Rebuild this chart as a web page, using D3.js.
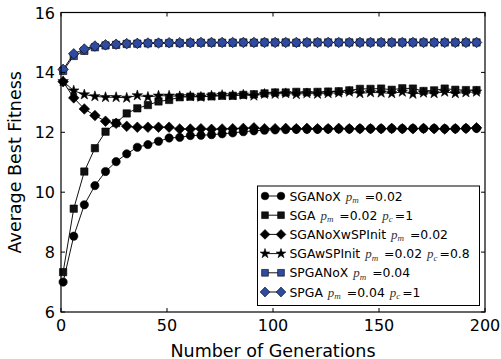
<!DOCTYPE html>
<html>
<head>
<meta charset="utf-8">
<script src="https://cdn.jsdelivr.net/npm/d3@7"></script>
<style>
  html, body { margin: 0; padding: 0; background: #fff; }
  svg { display: block; }
  text { font-family: "DejaVu Sans", sans-serif; fill: #000; }
</style>
</head>
<body>
<svg id="chart" width="501" height="359"></svg>
<script>
// Generations sampled every 5 steps
const generations = d3.range(1, 200, 5);

const sgaNoX = [7.0, 8.53, 9.58, 10.22, 10.69, 11.02, 11.28, 11.5, 11.59, 11.7,
  11.81, 11.83, 11.89, 11.9, 11.92, 11.95, 11.98, 12.02, 12.05, 12.07,
  12.08, 12.09, 12.1, 12.1, 12.1, 12.11, 12.11, 12.11, 12.12, 12.12,
  12.12, 12.12, 12.12, 12.13, 12.12, 12.13, 12.12, 12.12, 12.13, 12.13];

const sga = [7.33, 9.45, 10.69, 11.47, 12.02, 12.31, 12.63, 12.8, 12.91, 13.03,
  13.08, 13.17, 13.19, 13.19, 13.2, 13.22, 13.22, 13.25, 13.27, 13.3,
  13.33, 13.33, 13.35, 13.34, 13.35, 13.36, 13.37, 13.4, 13.45, 13.45,
  13.46, 13.42, 13.47, 13.46, 13.38, 13.4, 13.46, 13.42, 13.41, 13.41];

const sgaNoXwSPInit = [13.69, 13.15, 12.78, 12.56, 12.37, 12.3, 12.2, 12.17, 12.17, 12.17,
  12.17, 12.11, 12.11, 12.12, 12.1, 12.11, 12.12, 12.13, 12.15, 12.12,
  12.12, 12.13, 12.12, 12.13, 12.12, 12.12, 12.13, 12.12, 12.12, 12.12,
  12.12, 12.13, 12.12, 12.12, 12.13, 12.12, 12.11, 12.12, 12.13, 12.15];

const sgaWSPInit = [13.7, 13.39, 13.26, 13.2, 13.17, 13.17, 13.15, 13.23, 13.18, 13.22,
  13.22, 13.2, 13.2, 13.18, 13.22, 13.24, 13.23, 13.25, 13.22, 13.28,
  13.28, 13.3, 13.27, 13.3, 13.28, 13.3, 13.32, 13.35, 13.3, 13.33,
  13.32, 13.3, 13.35, 13.28, 13.32, 13.3, 13.35, 13.3, 13.33, 13.35];

const spgaNoX = [14.05, 14.55, 14.72, 14.84, 14.9, 14.92, 14.95, 14.96, 14.97, 14.98,
  14.98, 14.98, 14.99, 14.99, 14.99, 14.99, 14.99, 15.0, 14.99, 15.0,
  15.0, 15.0, 14.99, 15.0, 15.0, 15.0, 15.0, 15.0, 15.0, 15.0,
  15.0, 15.0, 15.0, 15.0, 15.0, 15.0, 15.0, 15.0, 15.0, 15.0];

const spga = [14.1, 14.62, 14.78, 14.88, 14.92, 14.94, 14.96, 14.97, 14.98, 14.98,
  14.99, 14.99, 14.99, 15.0, 15.0, 15.0, 15.0, 15.0, 15.0, 15.0,
  15.0, 15.0, 15.0, 15.0, 15.0, 15.0, 15.0, 15.0, 15.0, 15.0,
  15.0, 15.0, 15.0, 15.0, 15.0, 15.0, 15.0, 15.0, 15.0, 15.0];

const xTicks = [0, 50, 100, 150, 200];
const yTicks = [6, 8, 10, 12, 14, 16];

// Legend labels: name, mutation rate, crossover rate
const seriesNames = ["SGANoX", "SGA", "SGANoXwSPInit", "SGAwSPInit", "SPGANoX", "SPGA"];
const pmValues = ["0.02", "0.02", "0.02", "0.02", "0.04", "0.04"];
const pcValues = [null, "1", null, "0.8", null, "1"];

const BLUE = "#2f4b9f";

const series = [
  { values: sgaNoX,        marker: "circle",  fill: "#000" },
  { values: sga,           marker: "square",  fill: "#111" },
  { values: sgaNoXwSPInit, marker: "diamond", fill: "#000" },
  { values: sgaWSPInit,    marker: "star",    fill: "#000" },
  { values: spgaNoX,       marker: "square",  fill: BLUE },
  { values: spga,          marker: "diamond", fill: BLUE }
];

const svg = d3.select("#chart");
const margin = { left: 61, top: 12.5, right: 16, bottom: 47 };
const W = 501, H = 359;

const x = d3.scaleLinear().domain([0, 200]).range([margin.left, W - margin.right]);
const y = d3.scaleLinear().domain([6, 16]).range([H - margin.bottom, margin.top]);

function symbolPath(kind, scale) {
  const s = scale || 1;
  if (kind === "circle") return d3.symbol(d3.symbolCircle, 54 * s)();
  if (kind === "square") return d3.symbol(d3.symbolSquare, 54 * s)();
  if (kind === "diamond") {
    const r = 5.3 * Math.sqrt(s);
    return `M0,${-r}L${r},0L0,${r}L${-r},0Z`;
  }
  return d3.symbol(d3.symbolStar, 34 * s)();
}

const plot = svg.append("g");
const line = d3.line().x((d, i) => x(generations[i])).y(d => y(d));

series.forEach(s => {
  plot.append("path")
    .attr("d", line(s.values))
    .attr("fill", "none")
    .attr("stroke", "#111")
    .attr("stroke-width", 1);
  plot.append("g").selectAll("path")
    .data(s.values)
    .join("path")
    .attr("transform", (d, i) => `translate(${x(generations[i])},${y(d)})`)
    .attr("d", symbolPath(s.marker))
    .attr("fill", s.fill)
    .attr("stroke", "#000")
    .attr("stroke-width", 0.6);
});

// Frame
const x0 = x(0), x1 = x(200), y0 = y(6), y1 = y(16);
svg.append("rect")
  .attr("x", x0).attr("y", y1)
  .attr("width", x1 - x0).attr("height", y0 - y1)
  .attr("fill", "none").attr("stroke", "#000").attr("stroke-width", 1.2);

// Inward ticks on all four sides
const tickLen = 4;
const tickG = svg.append("g").attr("stroke", "#000").attr("stroke-width", 1);
xTicks.forEach(t => {
  tickG.append("line").attr("x1", x(t)).attr("x2", x(t)).attr("y1", y0).attr("y2", y0 - tickLen);
  tickG.append("line").attr("x1", x(t)).attr("x2", x(t)).attr("y1", y1).attr("y2", y1 + tickLen);
});
yTicks.forEach(t => {
  tickG.append("line").attr("x1", x0).attr("x2", x0 + tickLen).attr("y1", y(t)).attr("y2", y(t));
  tickG.append("line").attr("x1", x1).attr("x2", x1 - tickLen).attr("y1", y(t)).attr("y2", y(t));
});

// Tick labels
svg.append("g").selectAll("text")
  .data(xTicks).join("text")
  .attr("x", d => x(d)).attr("y", y0 + 19)
  .attr("text-anchor", "middle")
  .attr("font-size", 16)
  .text(d => d);

svg.append("g").selectAll("text")
  .data(yTicks).join("text")
  .attr("x", x0 - 6).attr("y", d => y(d) + 6)
  .attr("text-anchor", "end")
  .attr("font-size", 16)
  .text(d => d);

// Axis titles
svg.append("text")
  .attr("x", (x0 + x1) / 2).attr("y", 356.5)
  .attr("text-anchor", "middle")
  .attr("font-size", 17.5)
  .text("Number of Generations");

svg.append("text")
  .attr("transform", `translate(21,${(y0 + y1) / 2}) rotate(-90)`)
  .attr("text-anchor", "middle")
  .attr("font-size", 17.5)
  .text("Average Best Fitness");

// Legend
const lg = svg.append("g");
lg.append("rect")
  .attr("x", 257.5).attr("y", 186)
  .attr("width", 222).attr("height", 119.5)
  .attr("fill", "#fff").attr("stroke", "#000").attr("stroke-width", 1);

const rowY = d3.scaleLinear().domain([0, 5]).range([196, 292]);
const mathFont = "'Liberation Serif', serif";
const SUB = 2.5;

// Italic p with a subscript; the next plain tspan restores the baseline
function mathSym(t, sub) {
  t.append("tspan").attr("dx", 1).attr("font-family", mathFont)
    .attr("font-style", "italic").attr("font-size", 13).attr("fill", "#333").text("p");
  t.append("tspan").attr("font-family", mathFont)
    .attr("font-style", "italic").attr("font-size", 9).attr("dy", SUB).attr("fill", "#333").text(sub);
}

series.forEach((s, i) => {
  const cy = rowY(i);
  const hx0 = 265, hx1 = 281;
  lg.append("line")
    .attr("x1", hx0).attr("x2", hx1).attr("y1", cy).attr("y2", cy)
    .attr("stroke", "#111").attr("stroke-width", 1);
  [hx0, hx1].forEach(hx => {
    lg.append("path")
      .attr("transform", `translate(${hx},${cy})`)
      .attr("d", symbolPath(s.marker, 0.85))
      .attr("fill", s.fill)
      .attr("stroke", "#000")
      .attr("stroke-width", 0.6);
  });
  const t = lg.append("text")
    .attr("x", 289.5).attr("y", cy + 4.5)
    .attr("font-size", 12.4)
    .attr("xml:space", "preserve");
  t.append("tspan").text(seriesNames[i] + " ");
  mathSym(t, "m");
  t.append("tspan").attr("dx", 2).attr("dy", -SUB).text(" =" + pmValues[i]);
  if (pcValues[i] !== null) {
    t.append("tspan").text(" ");
    mathSym(t, "c");
    t.append("tspan").attr("dx", 2).attr("dy", -SUB).text("=" + pcValues[i]);
  }
});
</script>
</body>
</html>
